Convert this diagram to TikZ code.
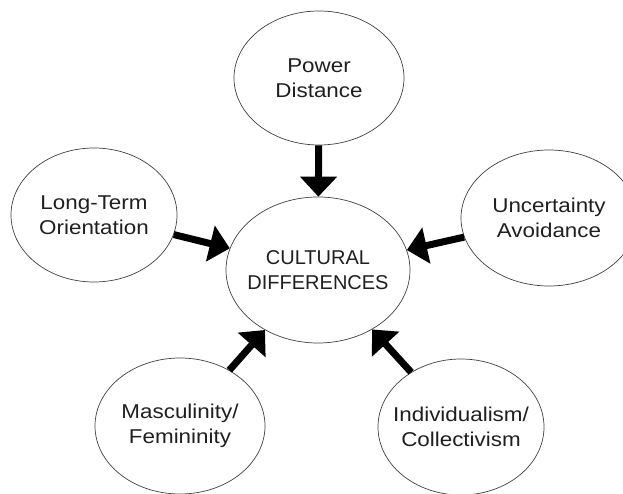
\documentclass[tikz,border=0pt]{standalone}
\usepackage{fontspec}
\setmainfont{Liberation Sans}[FakeStretch=1.12]
\newfontfamily\centerfont{Liberation Sans}[FakeStretch=1.0]
\usetikzlibrary{shapes.geometric,arrows.meta}
\begin{document}
\begin{tikzpicture}[x=1pt,y=-1pt,
  ell/.style={ellipse, draw=black!75, line width=0.7pt, inner sep=0pt},
  lbl/.style={align=center, inner sep=0pt, font=\fontsize{20}{25}\selectfont, text=black!88},
  clbl/.style={align=center, inner sep=0pt, font=\centerfont\fontsize{20}{25}\selectfont, text=black!88},
  arr/.style={line width=7pt, -{Triangle[width=36pt,length=20pt]}}]
\useasboundingbox (0,0) rectangle (623,494);
\clip (0,0) rectangle (623,494);
% ellipses
\node[ell, minimum width=170pt, minimum height=134pt] (pd) at (319,78) {};
\node[ell, minimum width=166pt, minimum height=134pt] (lt) at (94,215) {};
\node[ell, minimum width=184pt, minimum height=146pt] (cd) at (318,270) {};
\node[ell, minimum width=176pt, minimum height=136pt] (ua) at (549,218) {};
\node[ell, minimum width=170pt, minimum height=136pt] (mf) at (180,426) {};
\node[ell, minimum width=166pt, minimum height=136pt] (ic) at (461,427) {};
% labels
\node[lbl] (pdt) at (pd) {Power\\Distance};
\node[lbl] (ltt) at (lt) {Long-Term\\Orientation};
\node[clbl] (cdt) at (cd) {CULTURAL\\DIFFERENCES};
\node[lbl] (uat) at (ua) {Uncertainty\\Avoidance};
\node[lbl] (mft) at (mf) {Masculinity/\\Femininity};
\node[lbl] (ict) at (ic) {Individualism/\\Collectivism};
% arrows
\draw[arr] (pd) -- (cd);
\draw[arr] (lt) -- (cd);
\draw[arr] (ua) -- (cd);
\draw[arr] (mf) -- (cd);
\draw[arr] (ic) -- (cd);
\end{tikzpicture}
\end{document}
